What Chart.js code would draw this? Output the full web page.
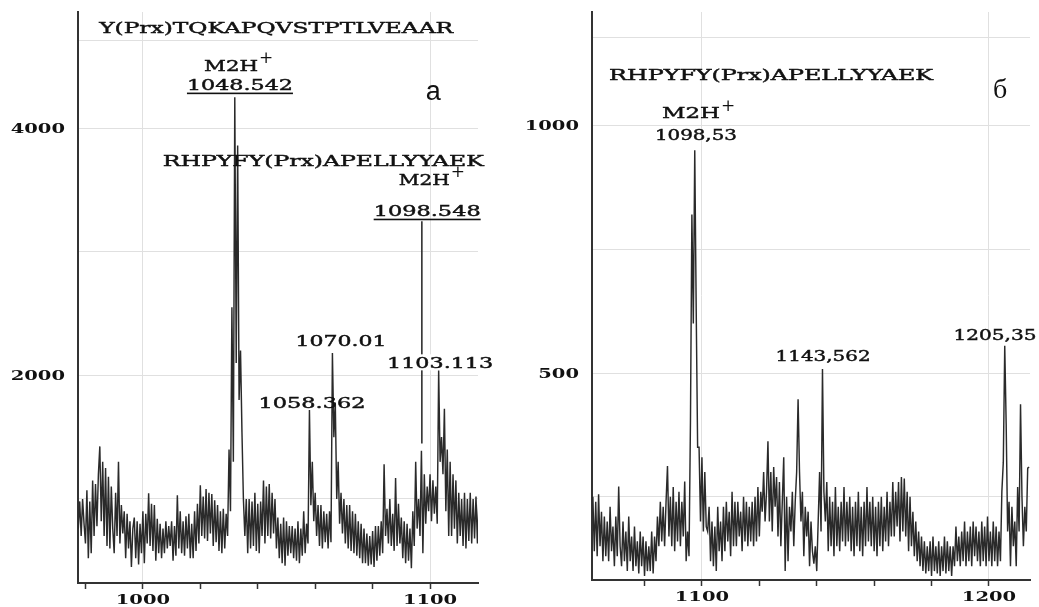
<!DOCTYPE html>
<html>
<head>
<style>
body { margin: 0; background: #fff; }
canvas { position: absolute; top: 0; }
#spec-a { left: 0; }
#spec-b { left: 519px; }
</style>
</head>
<body>
<canvas id="spec-a" width="519" height="607"></canvas>
<canvas id="spec-b" width="520" height="607"></canvas>

<script src="https://cdn.jsdelivr.net/npm/chart.js@4/dist/chart.umd.min.js"></script>
<script>
// readings every half m/z unit
var stepMz = 0.5;

// panel a: m/z 977..1117
var startA = 977;
var intensityA = [
  1050, 760, 980, 700, 1000, 800, 640, 1070, 520, 980,
  560, 1150, 700, 1120, 780, 1200, 1425, 820, 1300, 700,
  1250, 620, 1180, 600, 1100, 760, 560, 1050, 700, 1300,
  640, 950, 720, 900, 520, 880, 600, 820, 450, 760,
  850, 520, 820, 470, 800, 560, 900, 480, 880, 640,
  1045, 620, 960, 580, 950, 500, 840, 560, 800, 520,
  760, 560, 820, 600, 780, 620, 820, 500, 780, 540,
  1030, 600, 900, 560, 820, 540, 860, 600, 880, 520,
  800, 520, 900, 580, 960, 640, 1110, 700, 1020, 680,
  1080, 660, 1050, 720, 1040, 620, 990, 650, 950, 580,
  900, 560, 920, 600, 880, 700, 1400, 900, 2550, 1300,
  4250, 2100, 3860, 1800, 2200, 1540, 1000, 700, 1000, 560,
  1000, 600, 980, 620, 1050, 580, 960, 560, 980, 700,
  1150, 640, 1100, 700, 1120, 680, 1050, 720, 1000, 600,
  850, 520, 800, 480, 850, 460, 820, 540, 780, 560,
  780, 520, 760, 500, 820, 480, 760, 540, 900, 560,
  800, 640, 1720, 950, 1300, 820, 1050, 700, 950, 620,
  950, 600, 900, 650, 880, 600, 900, 650, 2180, 1500,
  1780, 1000, 1300, 800, 1050, 720, 1000, 640, 950, 600,
  950, 580, 900, 560, 880, 540, 820, 520, 800, 480,
  760, 480, 720, 460, 700, 470, 740, 450, 780, 500,
  780, 540, 820, 560, 1280, 700, 920, 640, 1000, 620,
  880, 580, 1170, 620, 960, 640, 850, 520, 820, 480,
  800, 500, 760, 440, 900, 620, 1300, 760, 1000, 700,
  1390, 560, 1200, 800, 1100, 900, 1200, 820, 1150, 880,
  1100, 800, 2040, 1300, 1500, 1200, 1730, 900, 1400, 700,
  1300, 700, 1200, 760, 1150, 640, 1050, 700, 1000, 620,
  1050, 600, 1000, 660, 1050, 640, 1000, 680, 1020, 640,
  1000
];
var xTicksA = [980, 1000, 1020, 1040, 1060, 1080, 1100];
var xLabelsA = [1000, 1100];
var yGridA = [1000, 2000, 3000, 4000, 4712];
var yLabelsA = [2000, 4000];

// panel б: m/z 1062..1214
var startB = 1062;
var intensityB = [
  250, 140, 240, 130, 255, 150, 220, 120, 210, 130,
  200, 120, 230, 140, 190, 110, 210, 130, 271, 150,
  110, 200, 120, 180, 100, 210, 120, 170, 100, 190,
  110, 160, 95, 180, 110, 170, 90, 160, 100, 150,
  100, 180, 95, 170, 120, 210, 150, 240, 160, 230,
  150, 240, 312, 170, 250, 150, 270, 140, 240, 160,
  260, 150, 240, 170, 281, 120, 180, 130, 400, 820,
  600, 950, 630, 350, 350, 200, 330, 180, 300, 190,
  180, 230, 120, 200, 110, 190, 100, 230, 140, 200,
  120, 230, 140, 240, 160, 220, 130, 260, 150, 240,
  150, 240, 170, 220, 140, 250, 160, 240, 150, 230,
  160, 240, 150, 250, 160, 270, 170, 260, 220, 300,
  200, 260, 362, 200, 300, 180, 310, 230, 290, 170,
  280, 150, 240, 330, 100, 250, 120, 230, 180, 260,
  150, 240, 300, 447, 300, 200, 260, 130, 230, 170,
  220, 110, 200, 140, 115, 150, 100, 200, 300, 180,
  508, 260, 200, 280, 140, 250, 150, 240, 130, 270,
  150, 230, 140, 240, 160, 270, 150, 240, 160, 250,
  140, 230, 130, 240, 150, 260, 140, 230, 130, 240,
  150, 270, 160, 240, 150, 250, 140, 230, 130, 240,
  150, 250, 140, 230, 160, 260, 150, 240, 170, 280,
  170, 260, 190, 280, 160, 290, 180, 287, 170, 260,
  140, 250, 150, 220, 130, 200, 120, 180, 110, 170,
  100, 160, 95, 150, 100, 160, 90, 170, 100, 150,
  95, 160, 90, 150, 100, 170, 95, 160, 100, 150,
  90, 150, 110, 190, 120, 170, 110, 180, 120, 200,
  110, 180, 120, 190, 110, 200, 130, 190, 120, 180,
  110, 200, 120, 190, 110, 210, 120, 180, 110, 200,
  120, 190, 110, 180, 120, 261, 320, 555, 397, 180,
  240, 110, 230, 150, 200, 110, 270, 180, 437, 250,
  150, 230, 180, 308, 310
];
var xTicksB = [1080, 1100, 1120, 1140, 1160, 1180, 1200];
var xLabelsB = [1100, 1200];
var yGridB = [250, 500, 750, 1000, 1178];
var yLabelsB = [500, 1000];

// peak annotations, anchored in data units
var notesA = [
  { text: 'Y(Prx)TQKAPQVSTPTLVEAAR', x: 1046.4, y: 4810, w: 354 },
  { text: 'M2H', sup: '+', x: 1030.7, y: 4510, w: 54 },
  { text: '1048.542', x: 1033.8, y: 4356, w: 106, underline: true },
  { text: 'RHPYFY(Prx)APELLYYAEK', x: 1062.8, y: 3741, w: 321 },
  { text: 'M2H', sup: '+', x: 1098, y: 3587, w: 51 },
  { text: '1098.548', x: 1099, y: 3336, w: 107, underline: true },
  { text: '1070.01', x: 1069, y: 2283, w: 91 },
  { text: '1103.113', x: 1103.5, y: 2105, w: 106, bg: true },
  { text: '1058.362', x: 1058.9, y: 1781, w: 107 }
];
var leadersA = [{ x: 1097.15, from: 3247, to: 1449 }];
var letterA = { text: 'a', x: 1101.1, y: 4227, font: '27px "Liberation Sans"' };

var notesB = [
  { text: 'RHPYFY(Prx)APELLYYAEK', x: 1124.1, y: 1103, w: 324 },
  { text: 'M2H', sup: '+', x: 1096.2, y: 1026, w: 58 },
  { text: '1098,53', x: 1097.9, y: 982, w: 82 },
  { text: '1143,562', x: 1142.2, y: 536, w: 95 },
  { text: '1205,35', x: 1202.1, y: 577, w: 83 }
];
var leadersB = [];
var letterB = { text: 'б', x: 1203.9, y: 1055, font: '28px "Liberation Serif"' };

function toPoints(start, values) {
  return values.map(function (v, i) { return { x: start + i * stepMz, y: v }; });
}

// width 0 means: natural width, widened 1.5x (tick labels of the scan)
function stretched(ctx, str, x, y, font, width, align, weight) {
  ctx.save();
  ctx.font = font;
  var w = ctx.measureText(str).width;
  if (!width) width = w * 1.5;
  ctx.translate(x, y);
  ctx.scale(width / w, 1);
  ctx.textAlign = align || 'center';
  ctx.textBaseline = 'alphabetic';
  ctx.fillText(str, 0, 0);
  if (weight) {
    ctx.lineWidth = weight;
    ctx.strokeStyle = ctx.fillStyle;
    ctx.strokeText(str, 0, 0);
  }
  ctx.restore();
}

var noteFont = '15px "DejaVu Serif"';
var tickFont = 'bold 13px "DejaVu Serif"';

function labelPlugin(notes, leaders, letter, xLabels, yLabels) {
  return {
    id: 'peakLabels',
    afterDatasetsDraw: function (chart) {
      var ctx = chart.ctx, sx = chart.scales.x, sy = chart.scales.y;
      ctx.save();
      ctx.strokeStyle = '#222';
      ctx.lineWidth = 1.5;
      leaders.forEach(function (l) {
        var px = sx.getPixelForValue(l.x);
        ctx.beginPath();
        ctx.moveTo(px, sy.getPixelForValue(l.from));
        ctx.lineTo(px, sy.getPixelForValue(l.to));
        ctx.stroke();
      });
      ctx.restore();
    },
    afterDraw: function (chart) {
      var ctx = chart.ctx, sx = chart.scales.x, sy = chart.scales.y, area = chart.chartArea;
      ctx.save();
      ctx.fillStyle = '#111';
      notes.forEach(function (n) {
        var cx = sx.getPixelForValue(n.x), cy = sy.getPixelForValue(n.y);
        if (n.bg) {
          ctx.fillStyle = '#fff';
          ctx.fillRect(cx - n.w / 2 - 2, cy - 8, n.w + 4, 16);
          ctx.fillStyle = '#111';
        }
        stretched(ctx, n.text, cx, cy + 5.5, noteFont, n.w, 'center', 0.45);
        if (n.sup) {
          ctx.font = '17px "DejaVu Serif"';
          ctx.textAlign = 'left';
          ctx.textBaseline = 'alphabetic';
          ctx.fillText(n.sup, cx + n.w / 2 + 1, cy - 2);
        }
        if (n.underline) {
          ctx.fillRect(cx - n.w / 2, cy + 8.5, n.w, 1.6);
        }
      });
      ctx.font = letter.font;
      ctx.textAlign = 'center';
      ctx.textBaseline = 'alphabetic';
      ctx.fillText(letter.text, sx.getPixelForValue(letter.x), sy.getPixelForValue(letter.y));

      yLabels.forEach(function (v) {
        stretched(ctx, String(v), area.left - 13, sy.getPixelForValue(v) + 4.5, tickFont, 0, 'right');
      });
      xLabels.forEach(function (v) {
        stretched(ctx, String(v), sx.getPixelForValue(v), area.bottom + 21, tickFont, 0);
      });
      ctx.restore();
    }
  };
}

function makeChart(start, values, xr, yr, xTicks, yGrid, pad, xH, yW) {
  return {
    type: 'line',
    data: {
      datasets: [{
        data: toPoints(start, values),
        borderColor: '#2a2a2a',
        borderWidth: 1.45,
        pointRadius: 0,
        tension: 0,
        fill: false
      }]
    },
    options: {
      responsive: false,
      animation: false,
      layout: { padding: pad },
      plugins: { legend: { display: false }, tooltip: { enabled: false } },
      scales: {
        x: {
          type: 'linear',
          min: xr[0], max: xr[1],
          afterBuildTicks: function (s) { s.ticks = xTicks.map(function (v) { return { value: v }; }); },
          afterFit: function (s) { s.height = xH; },
          ticks: { display: false },
          grid: {
            color: function (c) { return c.tick && c.tick.value % 100 === 0 ? '#e0e0e0' : 'rgba(0,0,0,0)'; },
            tickColor: '#333',
            tickLength: 6,
            tickWidth: 1.5
          },
          border: { color: '#333', width: 2 }
        },
        y: {
          min: yr[0], max: yr[1],
          afterBuildTicks: function (s) { s.ticks = yGrid.map(function (v) { return { value: v }; }); },
          afterFit: function (s) { s.width = yW; },
          ticks: { display: false },
          grid: { color: '#e0e0e0', drawTicks: false },
          border: { color: '#333', width: 2 }
        }
      }
    }
  };
}

var cfgA = makeChart(startA, intensityA, [977.4, 1116.7], [320, 4939],
  xTicksA, yGridA, { top: 12, right: 41, left: 0, bottom: 0 }, 24, 78);
cfgA.plugins = [labelPlugin(notesA, leadersA, letterA, xLabelsA, yLabelsA)];
new Chart(document.getElementById('spec-a').getContext('2d'), cfgA);

var cfgB = makeChart(startB, intensityB, [1061.7, 1214.3], [82, 1229],
  xTicksB, yGridB, { top: 12, right: 9, left: 0, bottom: 0 }, 27, 73);
cfgB.plugins = [labelPlugin(notesB, leadersB, letterB, xLabelsB, yLabelsB)];
new Chart(document.getElementById('spec-b').getContext('2d'), cfgB);
</script>
</body>
</html>
